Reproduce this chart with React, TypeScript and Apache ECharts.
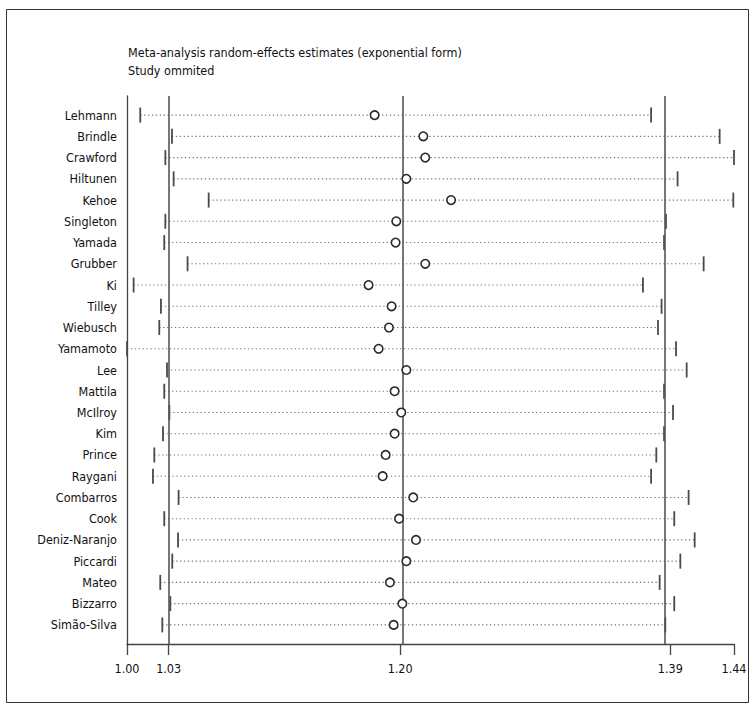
import React, { useEffect, useRef } from "react";
import * as echarts from "echarts";

const studies = [
  "Lehmann", "Brindle", "Crawford", "Hiltunen", "Kehoe", "Singleton", "Yamada",
  "Grubber", "Ki", "Tilley", "Wiebusch", "Yamamoto", "Lee", "Mattila", "McIlroy",
  "Kim", "Prince", "Raygani", "Combarros", "Cook", "Deniz-Naranjo", "Piccardi",
  "Mateo", "Bizzarro", "Simão-Silva",
];
const lowerCI = [
  1.0096, 1.0326, 1.0278, 1.0338, 1.0592, 1.0278, 1.027, 1.0439, 1.0048, 1.0246,
  1.0234, 1.0, 1.029, 1.027, 1.0307, 1.0261, 1.0198, 1.0188, 1.0374, 1.027,
  1.037, 1.0328, 1.0241, 1.0314, 1.0256,
];
const estimates = [
  1.1795, 1.2148, 1.2162, 1.2025, 1.2349, 1.1952, 1.1947, 1.2162, 1.1751, 1.1918,
  1.1899, 1.1824, 1.2025, 1.194, 1.1988, 1.194, 1.1875, 1.1853, 1.2075, 1.1972,
  1.2095, 1.2025, 1.1906, 1.1996, 1.1933,
];
const upperCI = [
  1.3799, 1.4296, 1.44, 1.3991, 1.4395, 1.3907, 1.3893, 1.418, 1.374, 1.3875,
  1.3849, 1.398, 1.4057, 1.3893, 1.3958, 1.3893, 1.3837, 1.3799, 1.4071, 1.3967,
  1.4115, 1.4011, 1.3861, 1.3967, 1.3902,
];
// overall: lower CI, estimate, upper CI
const overall = [1.0302, 1.198, 1.3938];
const xTicks = [1.0, 1.0302, 1.198, 1.3938, 1.44];
const rowPositions = studies.map((_, i) => i + 1);

const FONT = "'DejaVu Sans Condensed', 'Liberation Sans Narrow', sans-serif";
const FS = 12.5;

export default function App() {
  const ref = useRef<HTMLDivElement>(null);
  useEffect(() => {
    if (!ref.current) return;
    const chart = echarts.init(ref.current, undefined, { renderer: "svg" });
    const ciData = studies.map((_, i) => [lowerCI[i], upperCI[i], i + 1]);
    const estData = studies.map((_, i) => [estimates[i], i + 1]);
    chart.setOption({
      animation: false,
      backgroundColor: "#ffffff",
      title: {
        text: "Meta-analysis random-effects estimates (exponential form)\nStudy ommited",
        left: 128,
        top: 43,
        padding: 0,
        textStyle: {
          fontFamily: FONT,
          fontSize: FS,
          fontWeight: "normal",
          color: "#111",
          lineHeight: 18,
        },
      },
      graphic: [
        {
          type: "rect",
          shape: { x: 6.5, y: 9.5, width: 742, height: 693 },
          style: { fill: "none", stroke: "#333", lineWidth: 1 },
          silent: true,
        },
      ],
      grid: { left: 127, right: 22, top: 96, bottom: 65 },
      xAxis: {
        type: "value",
        min: 1.0,
        max: 1.44,
        splitLine: { show: false },
        axisLine: { show: true, lineStyle: { color: "#444", width: 1.3 } },
        axisTick: {
          show: true,
          customValues: xTicks,
          length: 11,
          lineStyle: { color: "#444", width: 1.3 },
        },
        axisLabel: {
          customValues: xTicks,
          formatter: (v: number) => v.toFixed(2),
          fontFamily: FONT,
          fontSize: FS,
          color: "#111",
          margin: 18,
        },
      },
      yAxis: {
        type: "value",
        inverse: true,
        min: 0.1,
        max: 25.9,
        splitLine: { show: false },
        axisLine: { show: true, lineStyle: { color: "#444", width: 1.3 } },
        axisTick: { show: false },
        axisLabel: {
          customValues: rowPositions,
          formatter: (v: number) => studies[Math.round(v) - 1] ?? "",
          fontFamily: FONT,
          fontSize: FS,
          color: "#111",
          margin: 10,
        },
      },
      series: [
        {
          type: "custom",
          data: ciData,
          encode: { x: [0, 1], y: 2 },
          z: 2,
          renderItem: (params: any, api: any) => {
            const lo = api.coord([api.value(0), api.value(2)]);
            const hi = api.coord([api.value(1), api.value(2)]);
            const h = 7.5;
            return {
              type: "group",
              children: [
                {
                  type: "line",
                  shape: { x1: lo[0], y1: lo[1], x2: hi[0], y2: hi[1] },
                  style: { stroke: "#777", lineWidth: 1.1, lineDash: [1.3, 2.6] },
                },
                {
                  type: "line",
                  shape: { x1: lo[0], y1: lo[1] - h, x2: lo[0], y2: lo[1] + h },
                  style: { stroke: "#4a4a4a", lineWidth: 1.8 },
                },
                {
                  type: "line",
                  shape: { x1: hi[0], y1: hi[1] - h, x2: hi[0], y2: hi[1] + h },
                  style: { stroke: "#4a4a4a", lineWidth: 1.8 },
                },
              ],
            };
          },
        },
        {
          type: "scatter",
          data: estData,
          symbol: "circle",
          symbolSize: 8.5,
          z: 5,
          itemStyle: { color: "#fff", borderColor: "#2a2a2a", borderWidth: 1.6, opacity: 1 },
          markLine: {
            silent: true,
            symbol: "none",
            label: { show: false },
            lineStyle: { color: "#555", width: 1.6, type: "solid" },
            data: overall.map((v) => ({ xAxis: v })),
          },
        },
      ],
    });
    return () => chart.dispose();
  }, []);
  return (
    <div
      ref={ref}
      style={{ position: "fixed", left: 0, top: 0, width: 756, height: 709 }}
    />
  );
}
